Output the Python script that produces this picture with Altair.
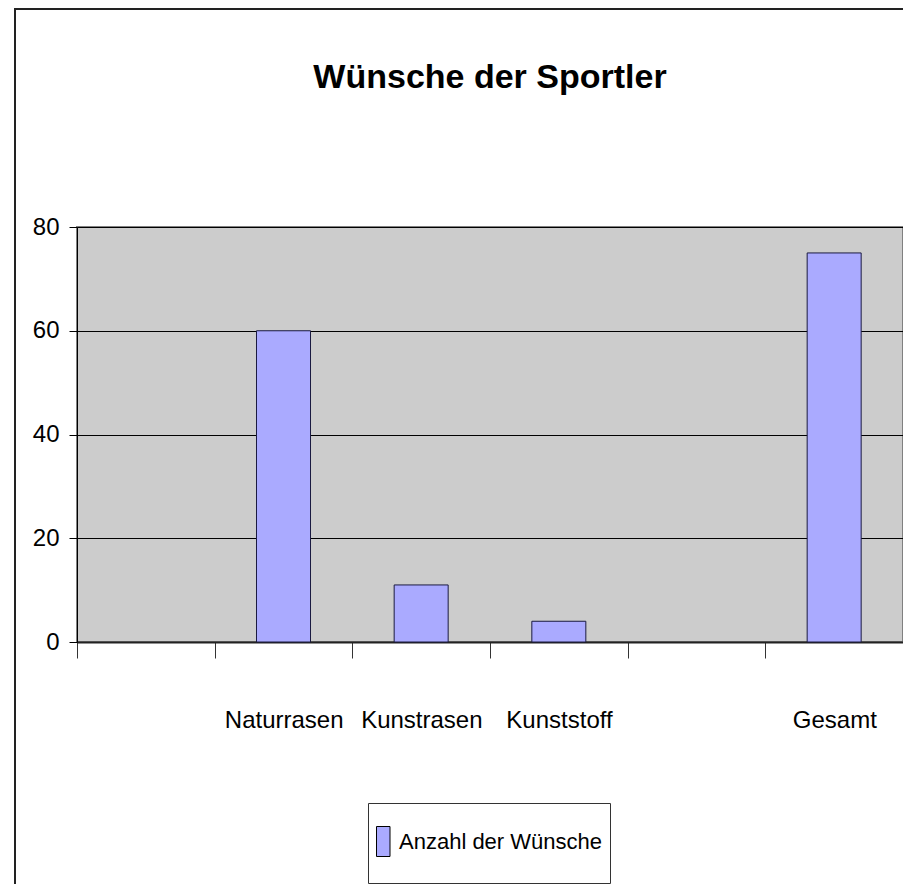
import json
import altair as alt
import pandas as pd

# Data
slots = ["", "Naturrasen", "Kunstrasen", "Kunststoff", "", "Gesamt"]
categories = ["Naturrasen", "Kunstrasen", "Kunststoff", "Gesamt"]
values = [60, 11, 4, 75]
series_name = "Anzahl der Wünsche"
y_ticks = [0, 20, 40, 60, 80]

FONT = "Liberation Sans"

positions = [slots.index(c) + 0.5 for c in categories]
df = pd.DataFrame({
    "kategorie": categories,
    "pos": positions,
    "wert": values,
    "serie": [series_name] * len(categories),
})

tick_vals = list(range(len(slots) + 1))
label_list = slots + [""]
label_expr = json.dumps(label_list) + "[datum.value]"

# tall narrow rectangle drawn at left of a 60px symbol cell (trailing move widens the entry)
rect_path = "M-1,-0.5H-0.55V0.5H-1Z M-1,1.05"

bars = alt.Chart(df).mark_bar(width=54, stroke="#1a1a40", strokeWidth=1).encode(
    x=alt.X(
        "pos:Q",
        scale=alt.Scale(domain=[0, len(slots)], nice=False, zero=False, padding=0),
        axis=alt.Axis(
            title=None,
            values=tick_vals,
            tickSize=16,
            tickColor="#333333",
            domainColor="#222222",
            domainWidth=2,
            labelAngle=0,
            labelFont=FONT,
            labelFontSize=24,
            labelColor="black",
            labelPadding=50,
            labelOffset=69,
            labelFlush=False,
            labelOverlap=False,
            labelExpr=label_expr,
            grid=False,
        ),
    ),
    y=alt.Y(
        "wert:Q",
        scale=alt.Scale(domain=[0, 80], nice=False),
        axis=alt.Axis(
            title=None,
            values=y_ticks,
            grid=True,
            gridColor="black",
            gridWidth=1,
            tickSize=8,
            tickColor="black",
            domainColor="black",
            labelFont=FONT,
            labelFontSize=24,
            labelColor="black",
            labelPadding=10,
        ),
    ),
    color=alt.Color(
        "serie:N",
        scale=alt.Scale(range=["#AAAAFF"]),
        legend=alt.Legend(
            title=None,
            orient="none",
            legendX=291,
            legendY=576,
            symbolType=rect_path,
            symbolSize=3600,
            symbolStrokeColor="black",
            symbolStrokeWidth=1,
            symbolOpacity=1,
            labelFont=FONT,
            labelFontSize=22,
            labelColor="black",
            labelOffset=alt.ExprRef(expr="-38"),
            labelLimit=400,
            padding=8,
            strokeColor="#333333",
            fillColor="white",
        ),
    ),
)

frame_df = pd.DataFrame({"k": [0]})
frame_left = alt.Chart(frame_df).mark_rule(color="#222222", strokeWidth=2).encode(
    x=alt.value(-62), y=alt.value(-219), y2=alt.value(660)
)
frame_top = alt.Chart(frame_df).mark_rule(color="#222222", strokeWidth=2).encode(
    x=alt.value(-62), x2=alt.value(830), y=alt.value(-218)
)

chart = alt.layer(bars, frame_left, frame_top).properties(
    width=826,
    height=415,
    title=alt.TitleParams(
        "Wünsche der Sportler",
        font=FONT,
        fontSize=34,
        fontWeight="bold",
        color="black",
        anchor="middle",
        offset=alt.ExprRef(expr="-88"),
    ),
    autosize=alt.AutoSizeParams(type="none"),
    padding={"left": 69, "top": 219, "right": 0, "bottom": 242},
    background="white",
).configure_view(
    fill="#CCCCCC", stroke="#808080", strokeWidth=2
)

chart.save("out.html", embed_options={"renderer": "svg", "actions": False})
